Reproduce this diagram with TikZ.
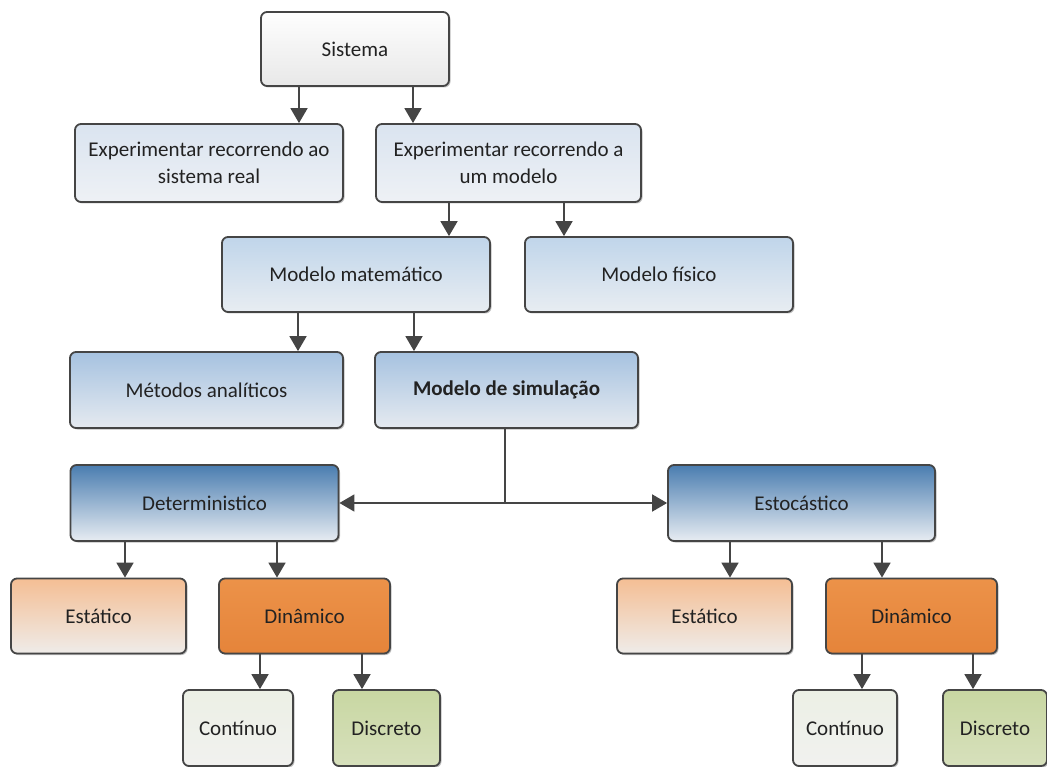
\documentclass[tikz,border=0pt]{standalone}
\usepackage{fontspec}
\setmainfont{Carlito}
\usetikzlibrary{arrows.meta,shadows}

\definecolor{ink}{HTML}{222222}
\definecolor{edge}{HTML}{454545}
\definecolor{sysTop}{HTML}{FEFEFE}\definecolor{sysBot}{HTML}{E8E8E8}
\definecolor{rbTop}{HTML}{DAE4F0}\definecolor{rbBot}{HTML}{EEF1F5}
\definecolor{rcTop}{HTML}{C0D5EA}\definecolor{rcBot}{HTML}{E8EDF2}
\definecolor{rdTop}{HTML}{A6C2E0}\definecolor{rdBot}{HTML}{E5EAF0}
\definecolor{reTop}{HTML}{4A7DB0}\definecolor{reBot}{HTML}{E7ECF2}
\definecolor{estTop}{HTML}{F4BE94}\definecolor{estBot}{HTML}{EFECE9}
\definecolor{dinTop}{HTML}{EC9249}\definecolor{dinBot}{HTML}{E5843A}
\definecolor{conTop}{HTML}{ECF0E5}\definecolor{conBot}{HTML}{F1F1EF}
\definecolor{disTop}{HTML}{C8D7A2}\definecolor{disBot}{HTML}{D7E0BC}

\tikzset{
  box/.style={draw=edge, line width=1.8pt, rounded corners=6pt, align=center,
    text=ink, font=\fontsize{21}{27}\selectfont,
    drop shadow={shadow xshift=1.5pt, shadow yshift=-1.5pt, opacity=0.25, fill=black},
    inner sep=0pt},
  grad/.style 2 args={top color=#1, bottom color=#2},
  arr/.style={draw=edge, line width=1.8pt, -{Triangle[length=15pt,width=17pt]}},
}

\begin{document}
\begin{tikzpicture}[x=1pt,y=-1pt]
\useasboundingbox (0,0) rectangle (1047,767);

% top level
\node[box, grad={sysTop}{sysBot}, minimum width=188pt, minimum height=74pt] (sis) at (355,49) {Sistema};

% experiment level
\node[box, grad={rbTop}{rbBot}, minimum width=268pt, minimum height=78pt] (exreal) at (209,163) {Experimentar recorrendo ao\\sistema real};
\node[box, grad={rbTop}{rbBot}, minimum width=265pt, minimum height=78pt] (exmod) at (508.5,163) {Experimentar recorrendo a\\um modelo};

% model level
\node[box, grad={rcTop}{rcBot}, minimum width=268pt, minimum height=75pt] (matem) at (356,274.5) {Modelo matemático};
\node[box, grad={rcTop}{rcBot}, minimum width=268pt, minimum height=75pt] (fisico) at (659,274.5) {Modelo físico};

% method level
\node[box, grad={rdTop}{rdBot}, minimum width=273pt, minimum height=76pt] (analit) at (206.5,390) {Métodos analíticos};
\node[box, grad={rdTop}{rdBot}, minimum width=263pt, minimum height=76pt] (simul) at (506.5,390) {\bfseries Modelo de simulação};

% nature of the model
\node[box, grad={reTop}{reBot}, minimum width=268pt, minimum height=76pt] (determ) at (204.5,503) {Deterministico};
\node[box, grad={reTop}{reBot}, minimum width=267pt, minimum height=76pt] (estoc) at (801.5,503) {Estocástico};

% time behaviour
\node[box, grad={estTop}{estBot}, minimum width=175pt, minimum height=75pt] (estL) at (98.5,616) {Estático};
\node[box, grad={dinTop}{dinBot}, minimum width=171pt, minimum height=75pt] (dinL) at (304.5,616) {Dinâmico};
\node[box, grad={estTop}{estBot}, minimum width=175pt, minimum height=75pt] (estR) at (704.5,616) {Estático};
\node[box, grad={dinTop}{dinBot}, minimum width=171pt, minimum height=75pt] (dinR) at (911.5,616) {Dinâmico};

% state change
\node[box, grad={conTop}{conBot}, minimum width=110pt, minimum height=76pt] (contL) at (238,728) {Contínuo};
\node[box, grad={disTop}{disBot}, minimum width=107pt, minimum height=76pt] (discL) at (386.5,728) {Discreto};
\node[box, grad={conTop}{conBot}, minimum width=104pt, minimum height=76pt] (contR) at (845,728) {Contínuo};
\node[box, grad={disTop}{disBot}, minimum width=104pt, minimum height=76pt] (discR) at (995,728) {Discreto};

% connectors
\draw[arr] (299,0 |- sis.south) -- (299,0 |- exreal.north);
\draw[arr] (413,0 |- sis.south) -- (413,0 |- exmod.north);
\draw[arr] (449,0 |- exmod.south) -- (449,0 |- matem.north);
\draw[arr] (564,0 |- exmod.south) -- (564,0 |- fisico.north);
\draw[arr] (298,0 |- matem.south) -- (298,0 |- analit.north);
\draw[arr] (414,0 |- matem.south) -- (414,0 |- simul.north);
\draw[arr] (505,0 |- simul.south) |- (determ.east);
\draw[arr] (505,0 |- simul.south) |- (estoc.west);
\draw[arr] (125,0 |- determ.south) -- (125,0 |- estL.north);
\draw[arr] (277,0 |- determ.south) -- (277,0 |- dinL.north);
\draw[arr] (730,0 |- estoc.south) -- (730,0 |- estR.north);
\draw[arr] (882,0 |- estoc.south) -- (882,0 |- dinR.north);
\draw[arr] (260,0 |- dinL.south) -- (260,0 |- contL.north);
\draw[arr] (362,0 |- dinL.south) -- (362,0 |- discL.north);
\draw[arr] (862,0 |- dinR.south) -- (862,0 |- contR.north);
\draw[arr] (973,0 |- dinR.south) -- (973,0 |- discR.north);
\end{tikzpicture}
\end{document}
